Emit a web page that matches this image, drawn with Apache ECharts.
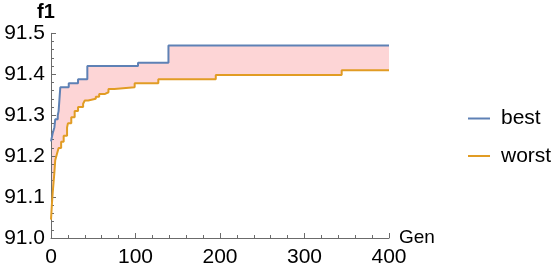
<!DOCTYPE html>
<html>
<head>
<meta charset="utf-8">
<script src="https://cdn.jsdelivr.net/npm/echarts@6/dist/echarts.min.js"></script>
<style>
html,body{margin:0;padding:0;background:#fff;}
#c{width:556px;height:268px;}
</style>
</head>
<body>
<div id="c"></div>
<script>
// Generation at which each value starts (step function)
var bestGen = [0, 2, 4, 5, 8, 9, 11, 21, 32, 43, 103, 139, 400];
var bestVal = [91.236, 91.256, 91.27, 91.29, 91.30, 91.31, 91.368, 91.378, 91.388, 91.42, 91.428, 91.47, 91.47];

var worstGen = [0, 1, 2, 4, 5, 7, 9, 12, 15, 19, 20, 24, 28, 32, 38, 40, 44, 53, 57, 64, 68, 75, 99, 127, 195, 344, 400];
var worstVal = [91.045, 91.08, 91.11, 91.16, 91.19, 91.205, 91.22, 91.235, 91.25, 91.27, 91.28, 91.295, 91.31, 91.32, 91.328, 91.336, 91.34, 91.345, 91.352, 91.356, 91.364, 91.368, 91.378, 91.388, 91.398, 91.41, 91.41];

var xTicks = [0, 100, 200, 300, 400];
var yTicks = [91.0, 91.1, 91.2, 91.3, 91.4, 91.5];
var seriesNames = ['best', 'worst'];

function pairs(g, v) { return g.map(function (x, i) { return [x, v[i]]; }); }
var bestData = pairs(bestGen, bestVal);
var worstData = pairs(worstGen, worstVal);

var BLUE = '#5E81B5', ORANGE = '#E19C24', PINK = '#FDD5D6', AXIS = '#6b6b6b';
var FONT = 'Liberation Sans, Arial, sans-serif';

var chart = echarts.init(document.getElementById('c'), null, {renderer: 'canvas'});
chart.setOption({
  animation: false,
  backgroundColor: '#fff',
  grid: {left: 51, right: 167, top: 33.3, bottom: 26.3, containLabel: false},
  legend: {
    data: seriesNames,
    orient: 'vertical',
    left: 463, top: 103,
    itemGap: 16.5,
    itemWidth: 22, itemHeight: 2,
    icon: 'rect',
    textStyle: {fontFamily: FONT, fontSize: 21, color: '#000', padding: [0, 0, 0, 6]}
  },
  xAxis: {
    type: 'value', min: xTicks[0], max: xTicks[xTicks.length - 1], interval: 100,
    z: 3,
    name: 'Gen', nameLocation: 'end', nameGap: 10, nameMoveOverlap: false,
    nameTextStyle: {fontFamily: FONT, fontSize: 19, color: '#000'},
    axisLine: {show: true, lineStyle: {color: AXIS, width: 1}},
    axisTick: {show: true, inside: true, length: 5, lineStyle: {color: AXIS}},
    minorTick: {show: true, splitNumber: 5, length: 3, lineStyle: {color: AXIS}},
    splitLine: {show: false},
    axisLabel: {fontFamily: FONT, fontSize: 21, color: '#000', margin: 9,
      formatter: function (v) { return xTicks.indexOf(v) >= 0 ? String(v) : ''; }}
  },
  yAxis: {
    type: 'value', min: yTicks[0], max: yTicks[yTicks.length - 1], interval: 0.1,
    z: 3,
    name: 'f1', nameLocation: 'end', nameGap: 10,
    nameTextStyle: {fontFamily: FONT, fontSize: 20, fontWeight: 'bold', color: '#000', padding: [0, 10, 0, 0]},
    axisLine: {show: true, lineStyle: {color: AXIS, width: 1}},
    axisTick: {show: true, inside: true, length: 5, lineStyle: {color: AXIS}},
    minorTick: {show: true, splitNumber: 5, length: 3, lineStyle: {color: AXIS}},
    splitLine: {show: false},
    axisLabel: {fontFamily: FONT, fontSize: 21, color: '#000', margin: 6,
      formatter: function (v) { return v.toFixed(1); }}
  },
  series: [
    {name: 'fillTop', type: 'line', step: 'end', data: bestData, z: 1,
      showSymbol: false, symbol: 'none', lineStyle: {width: 0, opacity: 0},
      areaStyle: {color: PINK, opacity: 1}, silent: true},
    {name: 'fillBottom', type: 'line', step: 'end', data: worstData, z: 1,
      showSymbol: false, symbol: 'none', lineStyle: {width: 0, opacity: 0},
      areaStyle: {color: '#fff', opacity: 1}, silent: true},
    {name: seriesNames[0], type: 'line', step: 'end', data: bestData, z: 4,
      showSymbol: false, symbol: 'none', color: BLUE, lineStyle: {color: BLUE, width: 2}},
    {name: seriesNames[1], type: 'line', step: 'end', data: worstData, z: 4,
      showSymbol: false, symbol: 'none', color: ORANGE, lineStyle: {color: ORANGE, width: 2}}
  ]
});
</script>
</body>
</html>
